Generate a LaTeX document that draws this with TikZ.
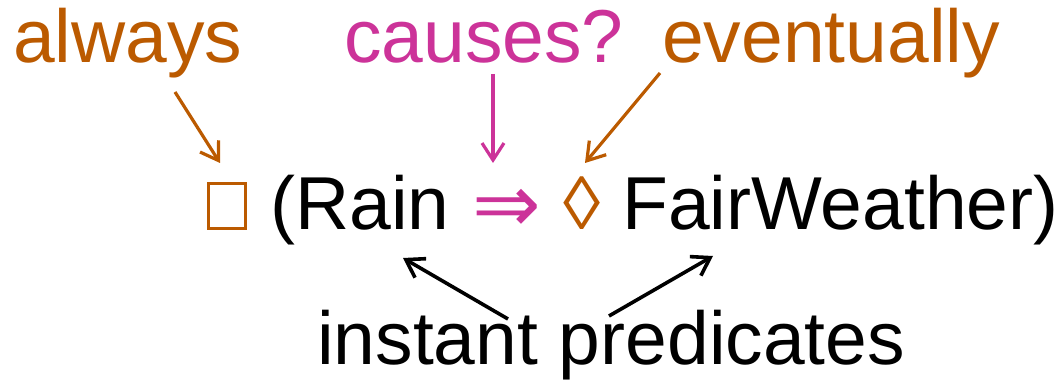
\documentclass[tikz,border=0pt]{standalone}
\usepackage{fontspec}
\setmainfont{Liberation Sans}
\newfontfamily\djv{DejaVu Sans}
\usetikzlibrary{arrows.meta}
\definecolor{tempo}{RGB}{187,90,0}
\definecolor{cause}{RGB}{204,51,153}
\tikzset{
  lbl/.style={inner sep=0pt, anchor=base west, font=\fontsize{75}{82}\selectfont},
  ptr/.style={line width=3.2pt, -{Straight Barb[length=17pt,width=22pt]}},
}
\begin{document}
\begin{tikzpicture}[x=1pt,y=1pt]
\useasboundingbox (0,0) rectangle (1058,387);
% top labels
\node[lbl, text=tempo] (always) at (13,324) {always};
\node[lbl, text=cause] (causes) at (344,324) {causes?};
\node[lbl, text=tempo] (eventually) at (662,324) {eventually};
% formula
\node[draw=tempo, line width=3pt, inner sep=0pt, minimum width=37pt, minimum height=45pt] (box) at (227,181) {};
\node[lbl] (rain) at (270,157) {(Rain};
\node[inner sep=0pt, text=cause, font=\djv\fontsize{82}{82}\selectfont] (implies) at (507,176) {⇒};
\node[lbl, text=tempo] (diamond) at (563,157) {◊};
\node[lbl] (fair) at (622,157) {FairWeather)};
% bottom label
\node[lbl] (instant) at (317,22) {instant predicates};
% arrow ends
\coordinate (a0) at (175,295); \coordinate (a1) at (220,224);
\coordinate (c0) at (493,313); \coordinate (c1) at (493,224);
\coordinate (e0) at (660,314); \coordinate (e1) at (585,224);
\coordinate (l0) at (508,68);  \coordinate (l1) at (403,129);
\coordinate (r0) at (609,71);  \coordinate (r1) at (713,131);
\draw[ptr, tempo] (a0) -- (a1);
\draw[ptr, cause] (c0) -- (c1);
\draw[ptr, tempo] (e0) -- (e1);
\draw[ptr, line width=3.6pt] (l0) -- (l1);
\draw[ptr, line width=3.6pt] (r0) -- (r1);
\end{tikzpicture}
\end{document}
